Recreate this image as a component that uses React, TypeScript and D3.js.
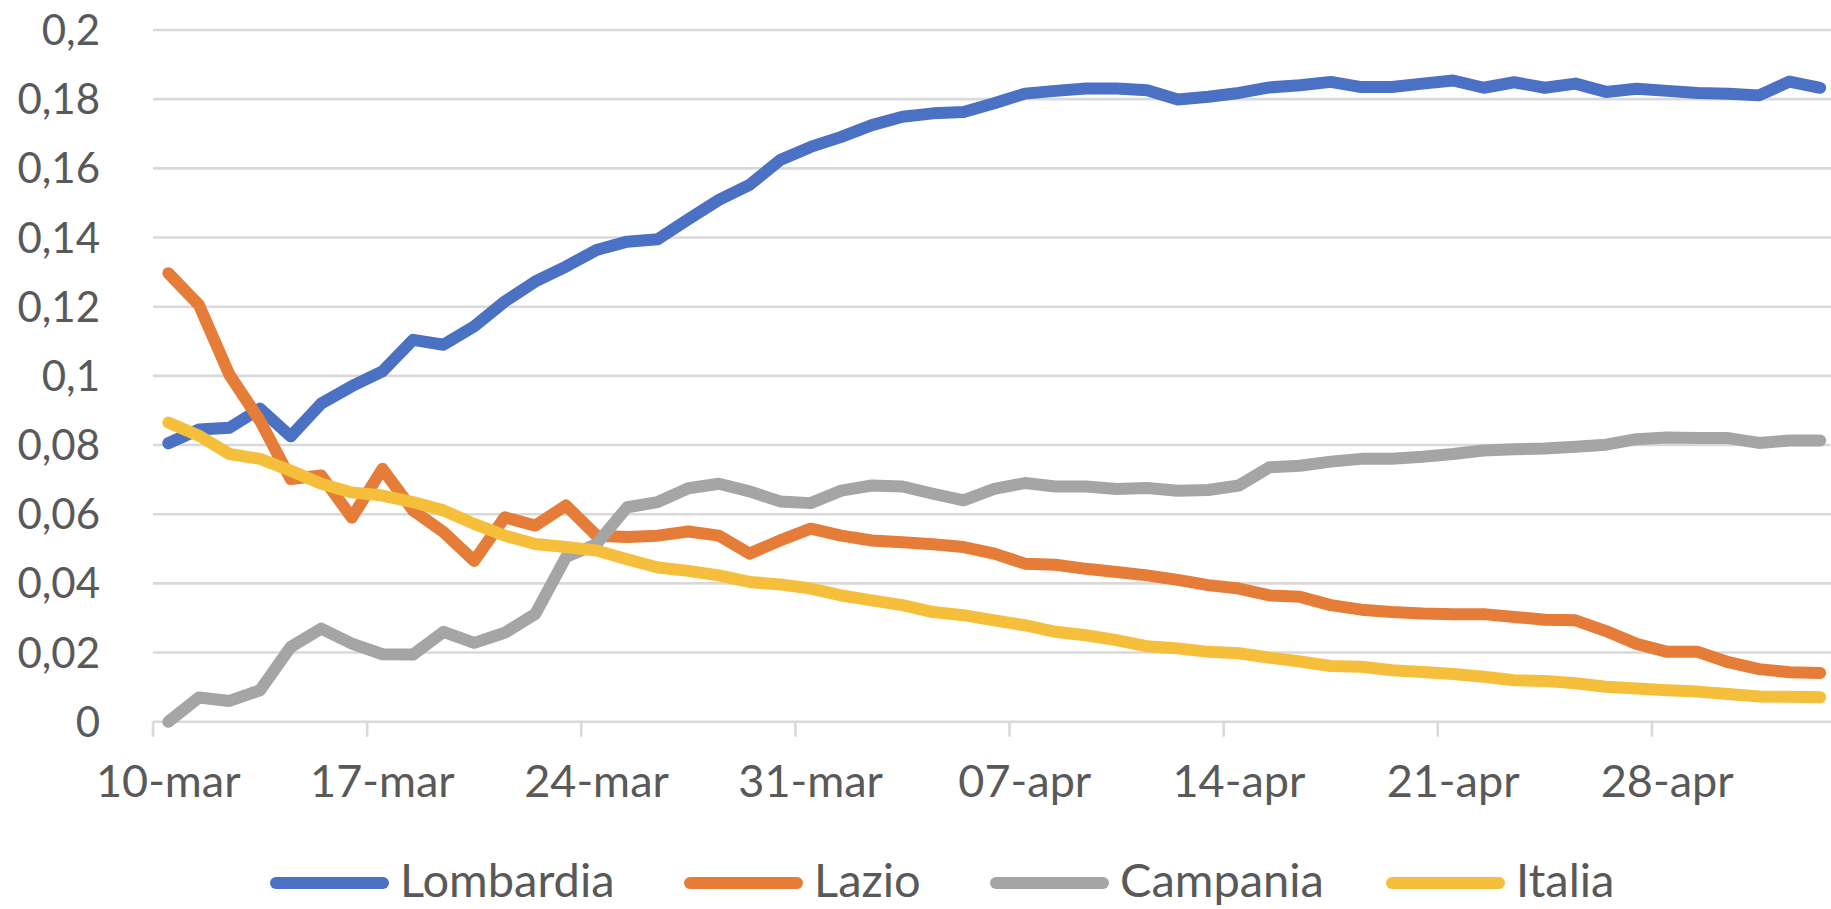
import React from "react";
import * as d3 from "d3";

const dates: Date[] = d3.timeDay.range(new Date(2020, 2, 10), new Date(2020, 4, 4));
const tickLabels = ["10-mar", "17-mar", "24-mar", "31-mar", "07-apr", "14-apr", "21-apr", "28-apr"];
const yTicks = [0, 0.02, 0.04, 0.06, 0.08, 0.1, 0.12, 0.14, 0.16, 0.18, 0.2];
const seriesNames = ["Lombardia", "Lazio", "Campania", "Italia"];
const seriesColors = ["#4A71C3", "#E57C37", "#A5A5A5", "#F5BF3C"];

const lombardia = [0.0805, 0.0845, 0.085, 0.0905, 0.0825, 0.092, 0.097, 0.1013, 0.1104, 0.109, 0.1143, 0.1215, 0.1273, 0.1316, 0.1364, 0.1388, 0.1395, 0.1453, 0.1509, 0.1552, 0.1624, 0.1662, 0.1691, 0.1725, 0.1749, 0.1759, 0.1763, 0.1788, 0.1816, 0.1824, 0.1831, 0.1831, 0.1826, 0.1799, 0.1807, 0.1818, 0.1834, 0.184, 0.185, 0.1835, 0.1835, 0.1845, 0.1854, 0.1833, 0.1849, 0.1833, 0.1845, 0.1821, 0.183, 0.1824, 0.1818, 0.1816, 0.1811, 0.1851, 0.1833];
const lazio = [0.1297, 0.1205, 0.1003, 0.087, 0.0702, 0.0712, 0.059, 0.0731, 0.0611, 0.0548, 0.0465, 0.0591, 0.0567, 0.0625, 0.0538, 0.0534, 0.0538, 0.055, 0.0538, 0.0486, 0.0524, 0.0558, 0.0538, 0.0524, 0.0519, 0.0513, 0.0505, 0.0486, 0.0457, 0.0454, 0.0442, 0.0433, 0.0423, 0.041, 0.0395, 0.0385, 0.0365, 0.0361, 0.0337, 0.0324, 0.0317, 0.0313, 0.0311, 0.0311, 0.0303, 0.0295, 0.0293, 0.0262, 0.0225, 0.0202, 0.0202, 0.0172, 0.0152, 0.0143, 0.0141];
const campania = [0.0, 0.007, 0.006, 0.0091, 0.0216, 0.0269, 0.0226, 0.0195, 0.0194, 0.026, 0.0228, 0.0257, 0.0312, 0.0476, 0.0514, 0.062, 0.0635, 0.0675, 0.0688, 0.0666, 0.0637, 0.0632, 0.0668, 0.0683, 0.068, 0.0659, 0.064, 0.0673, 0.069, 0.068, 0.068, 0.0673, 0.0676, 0.0668, 0.067, 0.0683, 0.0736, 0.074, 0.0752, 0.076, 0.076, 0.0766, 0.0774, 0.0784, 0.0788, 0.079, 0.0795, 0.0801, 0.0817, 0.0822, 0.082, 0.082, 0.0806, 0.0813, 0.0813];
const italia = [0.0865, 0.0827, 0.0774, 0.076, 0.0726, 0.0688, 0.0663, 0.0654, 0.0635, 0.0611, 0.0572, 0.0538, 0.0514, 0.0505, 0.0495, 0.047, 0.0446, 0.0436, 0.0423, 0.0404, 0.0397, 0.0385, 0.0365, 0.0351, 0.0337, 0.0317, 0.0308, 0.0293, 0.0279, 0.026, 0.025, 0.0236, 0.0218, 0.0212, 0.0202, 0.0198, 0.0185, 0.0174, 0.0161, 0.0159, 0.0149, 0.0144, 0.0138, 0.013, 0.012, 0.0118, 0.0111, 0.0101, 0.0096, 0.0091, 0.0087, 0.008, 0.0073, 0.0072, 0.0071];

const allSeries = [lombardia, lazio, campania, italia];

const W = 1831;
const H = 909;
const FONT = "Lato, 'Open Sans', sans-serif";
const TEXT = "#595959";
const GRID = "#D9D9D9";

export default function App() {
  const plotLeft = 153;
  const dayW = 30.59;
  const endDate = d3.timeDay.offset(dates[dates.length - 1], 1);
  const x = d3.scaleTime().domain([dates[0], endDate]).range([plotLeft, plotLeft + dates.length * dayW]);
  const y = d3.scaleLinear().domain([0, 0.2]).range([721.7, 30]);
  const mid = (d: Date) => x(d3.timeHour.offset(d, 12));

  const line = d3
    .line<number>()
    .x((_, i) => mid(dates[i]))
    .y((v) => y(v));

  const tickDates = tickLabels.map((_, k) => dates[k * 7]);
  const fmt = (v: number) => (v === 0 ? "0" : String(+v.toFixed(2)).replace(".", ","));

  const legendStarts = [270, 684, 990, 1386];

  return (
    <svg width={W} height={H} style={{ position: "absolute", left: 0, top: 0, background: "#fff" }} fontFamily={FONT}>
      <rect x={0} y={0} width={W} height={H} fill="#fff" />
      {yTicks.map((t) => (
        <g key={t}>
          <line x1={plotLeft} x2={W} y1={y(t)} y2={y(t)} stroke={GRID} strokeWidth={2.6} />
          <text x={100} y={y(t)} dy="0.36em" textAnchor="end" fontSize={42} fill={TEXT}>
            {fmt(t)}
          </text>
        </g>
      ))}
      {tickDates.map((d, k) => (
        <g key={k}>
          <line x1={x(d)} x2={x(d)} y1={y(0)} y2={y(0) + 15} stroke={GRID} strokeWidth={2.6} />
          <text x={mid(d)} y={797} textAnchor="middle" fontSize={45} fill={TEXT}>
            {tickLabels[k]}
          </text>
        </g>
      ))}
      {allSeries.map((s, i) => (
        <path
          key={seriesNames[i]}
          d={line(s) || ""}
          fill="none"
          stroke={seriesColors[i]}
          strokeWidth={12}
          strokeLinejoin="round"
          strokeLinecap="round"
        />
      ))}
      {seriesNames.map((n, i) => (
        <g key={n} transform={`translate(${legendStarts[i]},0)`}>
          <line x1={6} x2={113} y1={883} y2={883} stroke={seriesColors[i]} strokeWidth={12} strokeLinecap="round" />
          <text x={130} y={897} fontSize={47} fill={TEXT}>
            {n}
          </text>
        </g>
      ))}
    </svg>
  );
}
